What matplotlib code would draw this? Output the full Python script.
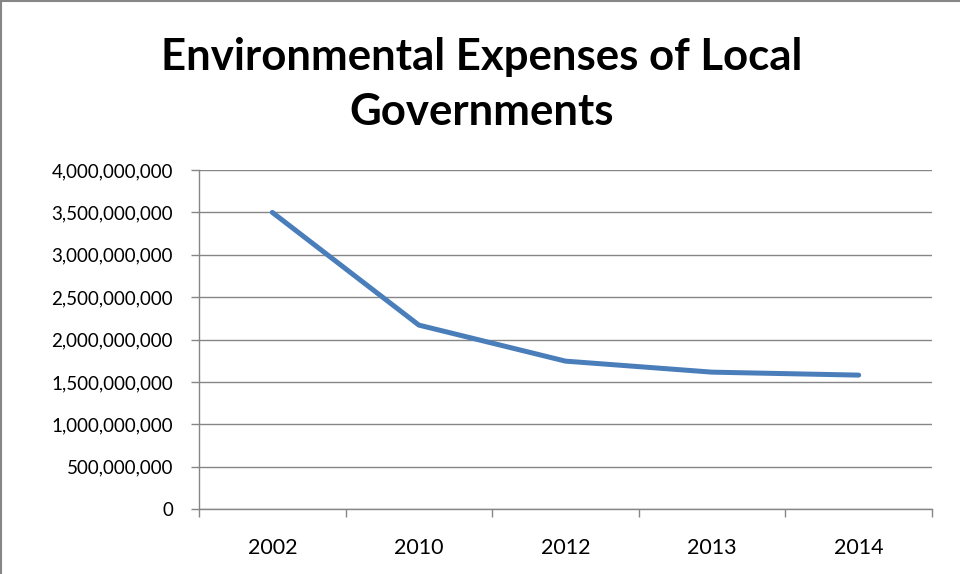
import matplotlib
matplotlib.use("Agg")
import matplotlib.pyplot as plt
from matplotlib.lines import Line2D
from matplotlib.ticker import FuncFormatter

# Gastos ambientais dos governos locais
years = ["2002", "2010", "2012", "2013", "2014"]
expenses = [3500000000, 2170000000, 1745000000, 1615000000, 1580000000]

plt.rcParams['font.family'] = ['Lato', 'DejaVu Sans']

fig = plt.figure(figsize=(9.6, 5.74), dpi=100)
ax = fig.add_axes([0.2073, 0.1132, 0.7635, 0.5906])

x = range(len(years))
ax.plot(x, expenses, color="#4A7EBB", linewidth=3.6, solid_capstyle="round")

ax.set_xlim(-0.5, len(years) - 0.5)
ax.set_ylim(0, 4000000000)
ax.set_yticks(range(0, 4000000001, 500000000))
ax.yaxis.set_major_formatter(FuncFormatter(lambda v, p: f"{int(v):,}"))

# categorias entre as marcas do eixo x
ax.set_xticks([i - 0.5 for i in range(len(years) + 1)])
ax.set_xticklabels([])
ax.set_xticks(list(x), minor=True)
ax.set_xticklabels(years, minor=True)
ax.tick_params(axis="x", which="minor", length=0, pad=21, labelsize=15.5)
ax.tick_params(axis="x", which="major", length=6, color="#868686", width=1)
ax.tick_params(axis="y", length=6, color="#868686", width=1, labelsize=13.5, pad=12.7)

ax.grid(axis="y", color="#868686", linewidth=1)
ax.set_axisbelow(True)
for side in ["top", "right"]:
    ax.spines[side].set_visible(False)
for side in ["left", "bottom"]:
    ax.spines[side].set_color("#868686")
    ax.spines[side].set_linewidth(1)

# título em duas linhas
fig.text(0.502, 1 - 70 / 574, "Environmental Expenses of Local", ha="center",
         va="baseline", fontsize=31.5, fontweight="bold")
fig.text(0.502, 1 - 125 / 574, "Governments", ha="center",
         va="baseline", fontsize=31.5, fontweight="bold")

# borda da área do gráfico
fig.add_artist(Line2D([0.0015, 0.0015], [0, 0.998], color="#868686", linewidth=1.5))
fig.add_artist(Line2D([0.0015, 1], [0.998, 0.998], color="#868686", linewidth=1.5))

fig.savefig("out.png", dpi=100)
